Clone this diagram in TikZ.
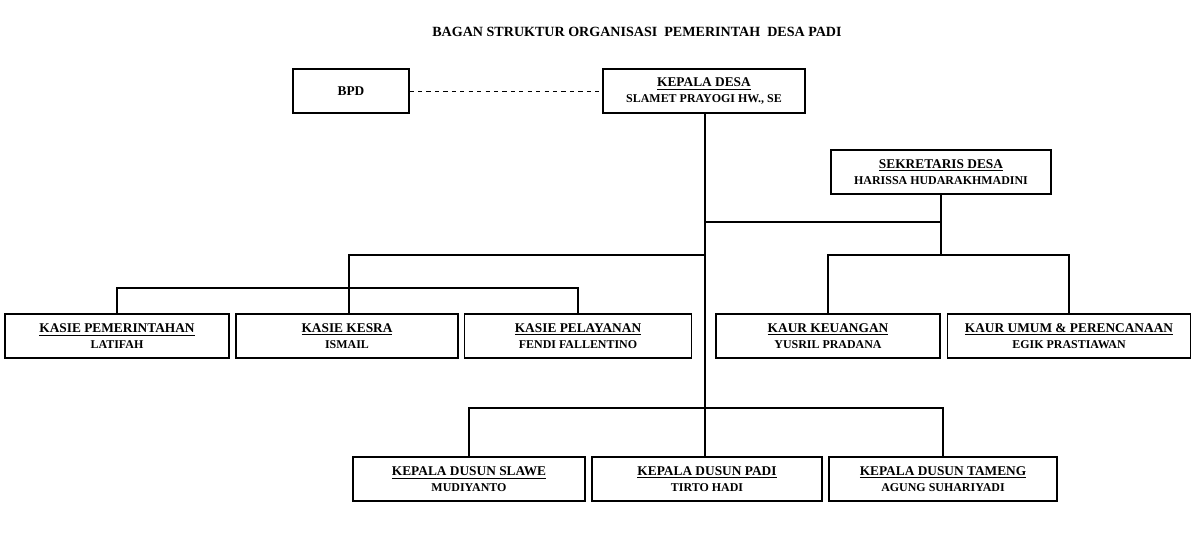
\documentclass[tikz,border=0pt]{standalone}
\usepackage{fontspec}
\setmainfont{Liberation Serif}
\usetikzlibrary{positioning}
\tikzset{
  unit/.style={draw,thick,minimum height=44\pxu,align=center,font=\bfseries\fontsize{9.5}{12}\selectfont,inner sep=1pt},
  link/.style={thick},
}
\newlength{\pxu}\setlength{\pxu}{0.025cm}
\newcommand{\jab}[2]{\underline{#1}\\[-1pt]{\fontsize{8.5}{10}\selectfont #2}}
\begin{document}
\begin{tikzpicture}[x=0.025cm,y=-0.025cm]
\useasboundingbox (0,0) rectangle (1200,539);
\node[font=\bfseries\fontsize{10}{12}\selectfont] (title) at (637,32) {BAGAN STRUKTUR ORGANISASI\ \ PEMERINTAH\ \ DESA PADI};

\node [unit,minimum width=116\pxu] (bpd) at (351,91) {BPD};
\node [unit,minimum width=202\pxu] (kades) at (704,91) {\jab{KEPALA DESA}{SLAMET PRAYOGI HW., SE}};
\node [unit,minimum width=220\pxu] (sekdes) at (941,172) {\jab{SEKRETARIS DESA}{HARISSA HUDARAKHMADINI}};

\node [unit,minimum width=224\pxu] (pem) at (117,336) {\jab{KASIE PEMERINTAHAN}{LATIFAH}};
\node [unit,minimum width=222\pxu] (kesra) at (347,336) {\jab{KASIE KESRA}{ISMAIL}};
\node [unit,minimum width=227\pxu] (pel) at (578,336) {\jab{KASIE PELAYANAN}{FENDI FALLENTINO}};
\node [unit,minimum width=224\pxu] (keu) at (828,336) {\jab{KAUR KEUANGAN}{YUSRIL PRADANA}};
\node [unit,minimum width=243\pxu] (umum) at (1069,336) {\jab{KAUR UMUM \& PERENCANAAN}{EGIK PRASTIAWAN}};

\node [unit,minimum width=232\pxu] (slawe) at (469,479) {\jab{KEPALA DUSUN SLAWE}{MUDIYANTO}};
\node [unit,minimum width=230\pxu] (padi) at (707,479) {\jab{KEPALA DUSUN PADI}{TIRTO HADI}};
\node [unit,minimum width=228\pxu] (tameng) at (943,479) {\jab{KEPALA DUSUN TAMENG}{AGUNG SUHARIYADI}};

% garis komando
\coordinate (sp) at (705,222);
\coordinate (kasie) at (349,255);
\coordinate (dusun) at (705,408);
\draw [dashed] (bpd) -- (kades);
\draw [link] (kades.south -| 705,0) -- (705,457);
\draw [link] (sp) -| (sekdes.south);
\draw [link] (sekdes.south) -- (941,255);
\draw [link] (705,255) -- (kasie) -- (349,288);
\draw [link] (pem.north) |- (349,288) -| (pel.north);
\draw [link] (349,288) -- (kesra.north -| 349,0);
\draw [link] (keu.north) |- (941,255) -| (umum.north);
\draw [link] (slawe.north) |- (dusun) -| (tameng.north);
\end{tikzpicture}
\end{document}
